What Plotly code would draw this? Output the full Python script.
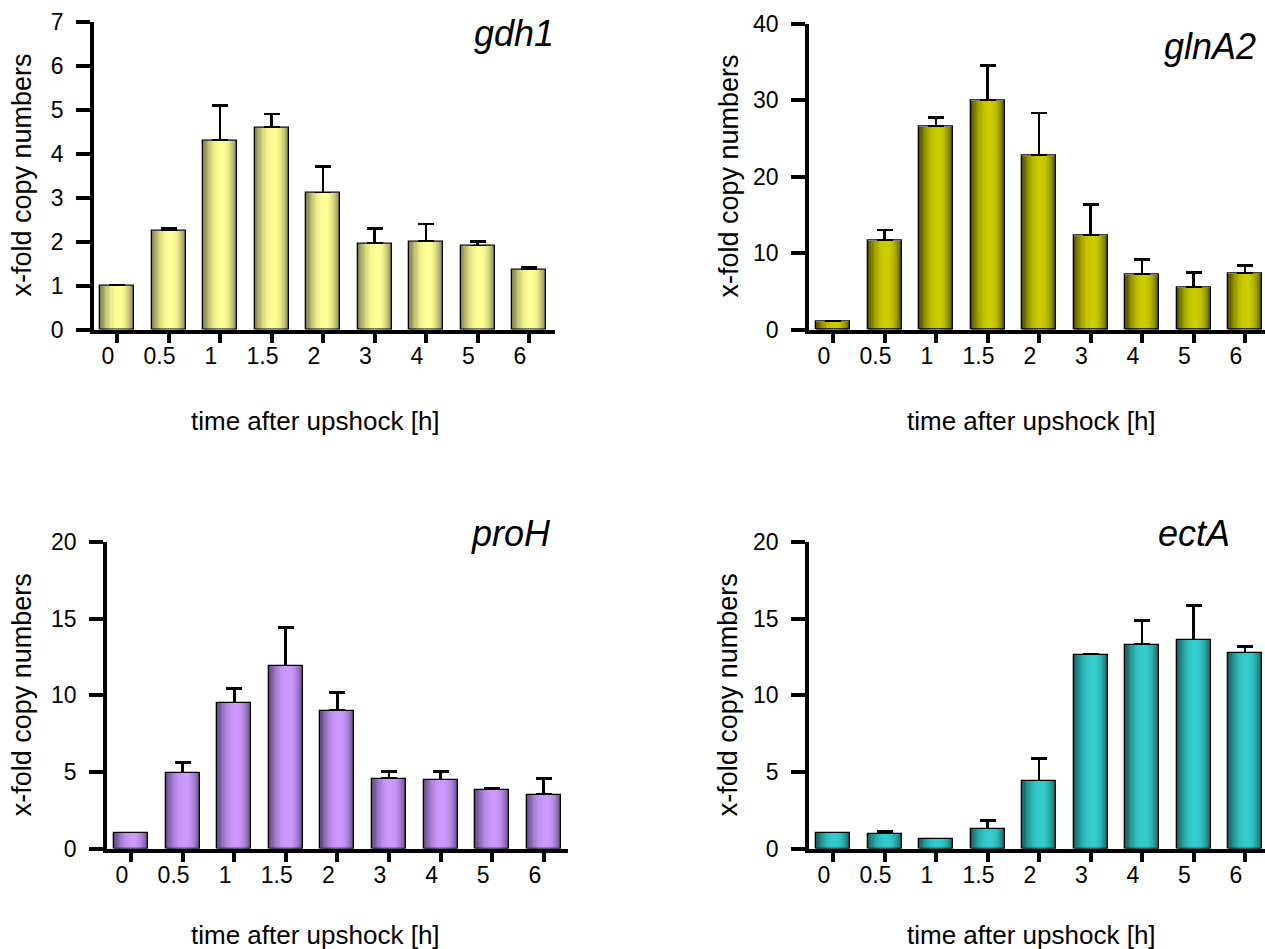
import plotly.graph_objects as go

W, H = 1265, 949

categories = ["0", "0.5", "1", "1.5", "2", "3", "4", "5", "6"]

gdh1_values = [1.0, 2.25, 4.3, 4.6, 3.1, 1.95, 2.0, 1.9, 1.35]
gdh1_errors = [0.0, 0.05, 0.8, 0.3, 0.6, 0.35, 0.4, 0.1, 0.06]

glnA2_values = [1.0, 11.6, 26.5, 30.0, 22.8, 12.3, 7.2, 5.5, 7.3]
glnA2_errors = [0.0, 1.4, 1.2, 4.5, 5.5, 4.0, 2.0, 2.0, 1.1]

proH_values = [1.0, 4.9, 9.5, 11.9, 9.0, 4.55, 4.45, 3.8, 3.5]
proH_errors = [0.0, 0.7, 0.95, 2.5, 1.2, 0.5, 0.6, 0.15, 1.05]

ectA_values = [1.0, 0.95, 0.6, 1.25, 4.4, 12.6, 13.3, 13.6, 12.75]
ectA_errors = [0.0, 0.15, 0.0, 0.6, 1.45, 0.07, 1.6, 2.25, 0.45]

y_title = "x-fold copy numbers"
x_title = "time after upshock [h]"

FONT = "Liberation Sans, Arial, Helvetica, sans-serif"

# layout geometry in pixels (axis-line centre, first tick, spacing, right end, top, bottom)
panels = [
    dict(gene="gdh1", vals=gdh1_values, errs=gdh1_errors, ymax=7, dtick=1,
         dark=(130, 130, 80), light=(255, 255, 150),
         ax=92, t0=117, sp=51.5, x1=555, top=21.7, bot=329.5,
         gx=556, gy=33, ytx=22, xtx=315, xty=421),
    dict(gene="glnA2", vals=glnA2_values, errs=glnA2_errors, ymax=40, dtick=10,
         dark=(80, 80, 0), light=(204, 204, 0),
         ax=807, t0=833, sp=51.5, x1=1265, top=23.5, bot=329.5,
         gx=1258, gy=47, ytx=728, xtx=1031, xty=421),
    dict(gene="proH", vals=proH_values, errs=proH_errors, ymax=20, dtick=5,
         dark=(100, 75, 135), light=(204, 153, 255),
         ax=105, t0=131, sp=51.6, x1=568, top=542, bot=848.5,
         gx=553, gy=533, ytx=22, xtx=315, xty=935),
    dict(gene="ectA", vals=ectA_values, errs=ectA_errors, ymax=20, dtick=5,
         dark=(25, 95, 95), light=(51, 204, 204),
         ax=807, t0=833, sp=51.5, x1=1265, top=542, bot=848.5,
         gx=1232, gy=533, ytx=728, xtx=1031, xty=935),
]

BAR_W = 0.66
NLAY = 14
PEAK = 0.56


def mix(a, b, t):
    return "rgb(%d,%d,%d)" % tuple(round(a[i] + (b[i] - a[i]) * t) for i in range(3))


fig = go.Figure()
annotations = []

for i, p in enumerate(panels):
    n = "" if i == 0 else str(i + 1)
    xa, ya = "x" + n, "y" + n
    x0 = p["ax"] + 2
    left = (x0 - p["t0"]) / p["sp"]
    right = (p["x1"] - p["t0"]) / p["sp"]

    # outer (darkest) bar with error bars
    fig.add_trace(go.Bar(
        x=categories, y=p["vals"], xaxis=xa, yaxis=ya,
        width=BAR_W, offset=-BAR_W / 2,
        marker=dict(color=mix(p["dark"], p["light"], 0), line=dict(width=0)),
        error_y=dict(type="data", symmetric=False, array=p["errs"],
                     arrayminus=[0] * len(p["errs"]), color="black",
                     thickness=2.8, width=8),
        showlegend=False, hoverinfo="skip"))
    # gradient layers
    for k in range(1, NLAY + 1):
        s = k / (NLAY + 1)
        l = -BAR_W / 2 + BAR_W * PEAK * s
        r = -BAR_W / 2 + BAR_W * (PEAK + (1 - PEAK) * (1 - s))
        g = 1 - (1 - k / NLAY) ** 2
        fig.add_trace(go.Bar(
            x=categories, y=p["vals"], xaxis=xa, yaxis=ya,
            width=r - l, offset=l,
            marker=dict(color=mix(p["dark"], p["light"], g), line=dict(width=0)),
            showlegend=False, hoverinfo="skip"))
    # outline
    fig.add_trace(go.Bar(
        x=categories, y=p["vals"], xaxis=xa, yaxis=ya,
        width=BAR_W, offset=-BAR_W / 2,
        marker=dict(color="rgba(0,0,0,0)", line=dict(width=1.3, color="black")),
        showlegend=False, hoverinfo="skip"))

    fig.layout["xaxis" + n] = dict(
        domain=[x0 / W, p["x1"] / W], anchor=ya, type="category",
        range=[left, right], showline=True, linewidth=4, linecolor="black",
        ticks="outside", ticklen=9, tickwidth=3.5, tickcolor="black",
        ticklabelshift=-9, ticklabelstandoff=-6,
        showgrid=False, zeroline=False, automargin=False,
        tickfont=dict(family=FONT, size=23, color="black"), fixedrange=True)
    fig.layout["yaxis" + n] = dict(
        domain=[1 - p["bot"] / H, 1 - p["top"] / H], anchor=xa,
        range=[0, p["ymax"]], tickmode="linear", tick0=0, dtick=p["dtick"],
        showline=True, linewidth=3.8, linecolor="black",
        ticks="outside", ticklen=14, tickwidth=3.5, tickcolor="black",
        ticklabelstandoff=8, showgrid=False, zeroline=False, automargin=False,
        tickfont=dict(family=FONT, size=23, color="black"), fixedrange=True)

    annotations.append(dict(text=p["gene"], xref="paper", yref="paper",
                            x=p["gx"] / W, y=1 - p["gy"] / H, xanchor="right", yanchor="middle",
                            showarrow=False,
                            font=dict(family=FONT, size=36, color="black", style="italic")))
    annotations.append(dict(text=y_title, xref="paper", yref="paper",
                            x=p["ytx"] / W, y=1 - (p["top"] + p["bot"]) / 2 / H,
                            xanchor="center", yanchor="middle", textangle=-90, showarrow=False,
                            font=dict(family=FONT, size=27, color="black")))
    annotations.append(dict(text=x_title, xref="paper", yref="paper",
                            x=p["xtx"] / W, y=1 - p["xty"] / H,
                            xanchor="center", yanchor="middle", showarrow=False,
                            font=dict(family=FONT, size=26, color="black")))

fig.update_layout(
    width=W, height=H, autosize=False,
    margin=dict(l=0, r=0, t=0, b=0, pad=0, autoexpand=False),
    paper_bgcolor="white", plot_bgcolor="white",
    barmode="overlay", bargap=0,
    annotations=annotations,
)

fig.write_html("out.html", config={"displayModeBar": False},
               post_script="document.body.style.margin='0px';document.body.style.overflow='hidden';")
